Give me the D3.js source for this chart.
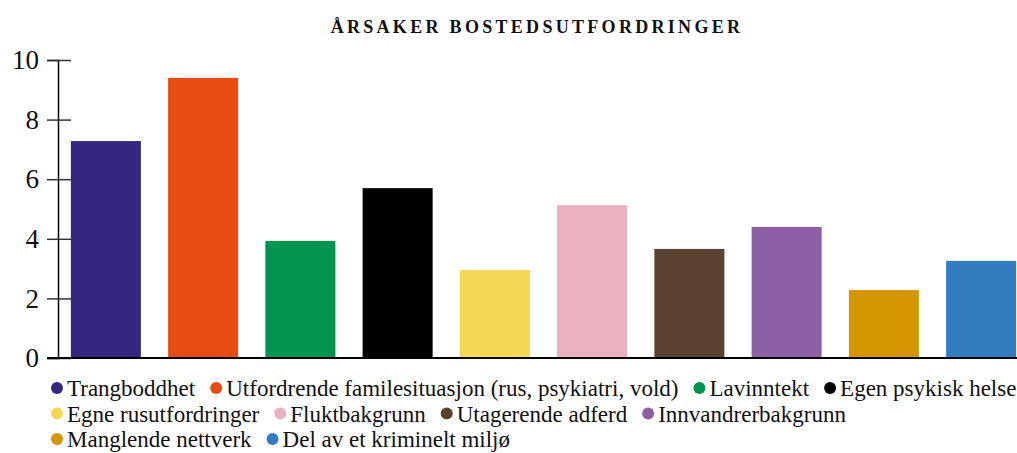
<!DOCTYPE html>
<html>
<head>
<meta charset="utf-8">
<script src="https://cdn.jsdelivr.net/npm/d3@7"></script>
<style>
  body { margin: 0; background: #fff; }
</style>
</head>
<body>
<svg id="svg" width="1017" height="453"></svg>
<script>
var categories = [
    "Trangboddhet",
    "Utfordrende familesituasjon (rus, psykiatri, vold)",
    "Lavinntekt",
    "Egen psykisk helse",
    "Egne rusutfordringer",
    "Fluktbakgrunn",
    "Utagerende adferd",
    "Innvandrerbakgrunn",
    "Manglende nettverk",
    "Del av et kriminelt miljø"
];
var values = [7.28, 9.4, 3.93, 5.7, 2.95, 5.13, 3.66, 4.4, 2.28, 3.26];
var colors = ["#33277f", "#e84c12", "#019350", "#000000", "#f5d653",
              "#eab1c0", "#5b4130", "#8d5fa4", "#d39500", "#337cc0"];
var yTicks = [0, 2, 4, 6, 8, 10];
var title = "ÅRSAKER BOSTEDSUTFORDRINGER";

var serif = "'Liberation Serif'";
var svg = d3.select("svg");
var width = 1017;

var xScale = d3.scaleBand()
    .domain(categories)
    .range([66, 1021])
    .paddingInner(0.28)
    .paddingOuter(0.05);

var yScale = d3.scaleLinear()
    .domain([0, 10])
    .range([358, 60]);

// title
svg.append("text")
    .attr("x", 537)
    .attr("y", 33)
    .attr("text-anchor", "middle")
    .style("font-family", serif)
    .style("font-size", "18px")
    .style("font-weight", "bold")
    .style("letter-spacing", "3.3px")
    .attr("fill", "#111")
    .text(title);

// bars
svg.selectAll("rect.bar")
    .data(values)
    .enter().append("rect")
    .attr("class", "bar")
    .attr("x", function (d, i) { return xScale(categories[i]); })
    .attr("y", function (d) { return yScale(d); })
    .attr("width", xScale.bandwidth())
    .attr("height", function (d) { return yScale(0) - yScale(d); })
    .attr("fill", function (d, i) { return colors[i]; });

// y axis
var yAxis = d3.axisLeft(yScale)
    .tickValues(yTicks)
    .tickSize(11)
    .tickPadding(8);

var yG = svg.append("g")
    .attr("transform", "translate(58,0)")
    .call(yAxis);
yG.select(".domain").attr("stroke", "#000").attr("stroke-width", 1.5);
yG.selectAll(".tick line")
    .attr("x1", 13)
    .attr("stroke", "#333")
    .attr("stroke-width", 1.5);
yG.selectAll(".tick text")
    .style("font-family", serif)
    .style("font-size", "27px")
    .attr("fill", "#111");

// baseline
svg.append("line")
    .attr("x1", 47)
    .attr("x2", width)
    .attr("y1", yScale(0))
    .attr("y2", yScale(0))
    .attr("stroke", "#000")
    .attr("stroke-width", 2);

// legend (flow layout)
var legend = svg.append("g").attr("class", "legend");
var lx = 51, ly = 388, rowH = 25.5, maxX = 1035;
categories.forEach(function (c, i) {
    var g = legend.append("g");
    g.append("circle")
        .attr("r", 6)
        .attr("cx", 6)
        .attr("cy", 0)
        .attr("fill", colors[i]);
    var t = g.append("text")
        .attr("x", 16)
        .attr("y", 0)
        .attr("dy", "0.35em")
        .style("font-family", serif)
        .style("font-size", "23px")
        .attr("fill", "#111")
        .text(c);
    var w = 16 + t.node().getComputedTextLength();
    if (lx + w > maxX && lx > 51) {
        lx = 51;
        ly += rowH;
    }
    g.attr("transform", "translate(" + lx + "," + ly + ")");
    lx += w + 15;
});
</script>
</body>
</html>
